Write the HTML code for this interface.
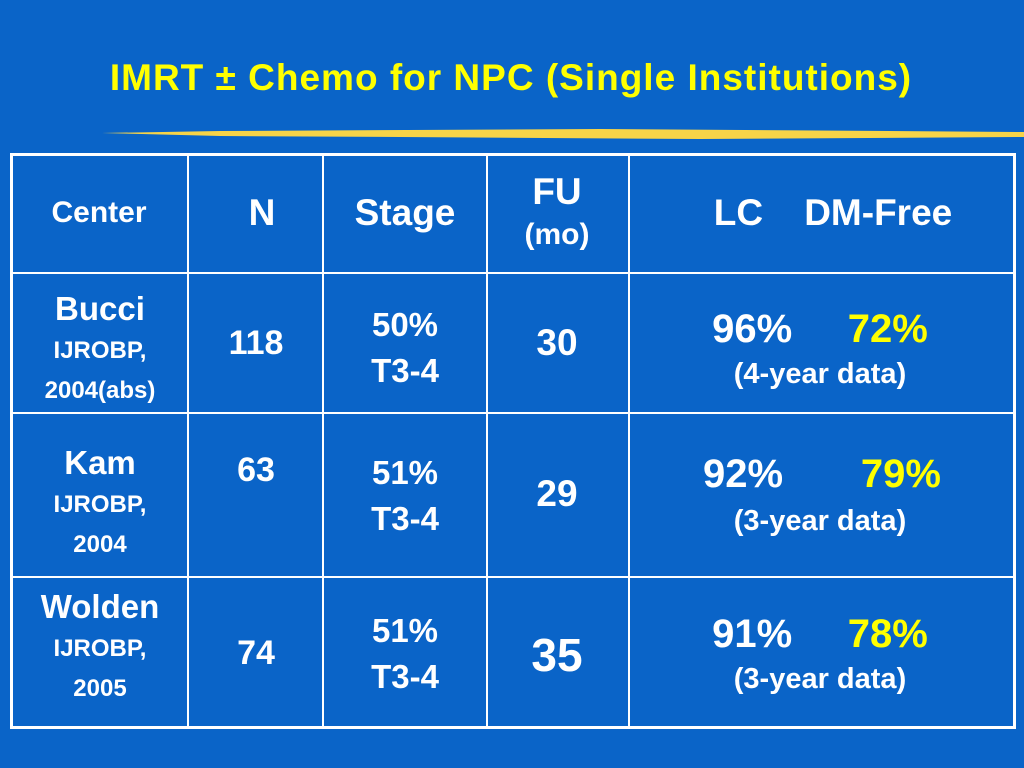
<!DOCTYPE html>
<html><head><meta charset="utf-8"><style>
body{margin:0;width:1024px;height:768px;background:#0a64c8;overflow:hidden;position:relative;font-family:"Liberation Sans",Arial,Helvetica,sans-serif;color:#fff}
.t{position:absolute;text-align:center;font-weight:bold;white-space:nowrap;transform:translateX(-50%)}
.y{color:#ffff00}
.ln{position:absolute;background:#fff}
</style></head><body>
<div class="t y" style="left:511px;top:57px;font-size:37px;letter-spacing:1px">IMRT ± Chemo for NPC (Single Institutions)</div>
<svg style="position:absolute;left:100px;top:124px" width="924" height="20"><path d="M2 9 L120 7 L500 5 L924 8 L924 13 L600 15 L300 13 L120 12 Z" fill="#f7d448"/></svg>
<div style="position:absolute;left:10px;top:153px;width:1000px;height:570px;border:3px solid #fff"></div>
<div class="ln" style="left:187px;top:153px;width:2px;height:573px"></div>
<div class="ln" style="left:322px;top:153px;width:2px;height:573px"></div>
<div class="ln" style="left:486px;top:153px;width:2px;height:573px"></div>
<div class="ln" style="left:628px;top:153px;width:2px;height:573px"></div>
<div class="ln" style="left:10px;top:272px;width:1004px;height:2px"></div>
<div class="ln" style="left:10px;top:412px;width:1004px;height:2px"></div>
<div class="ln" style="left:10px;top:576px;width:1004px;height:2px"></div>

<div class="t" style="left:99px;top:196px;font-size:30px">Center</div>
<div class="t" style="left:262px;top:192px;font-size:37px">N</div>
<div class="t" style="left:405px;top:192px;font-size:37px">Stage</div>
<div class="t" style="left:557px;top:172px;font-size:37px;line-height:40px">FU<br><span style="font-size:30px">(mo)</span></div>
<div class="t" style="left:833px;top:192px;font-size:37px">LC&nbsp;&nbsp;&nbsp;&nbsp;DM-Free</div>

<div class="t" style="left:100px;top:290px;font-size:33px;line-height:38px">Bucci<br><span style="font-size:24px;line-height:34px">IJROBP,<br>2004(abs)</span></div>
<div class="t" style="left:256px;top:324px;font-size:34px">118</div>
<div class="t" style="left:405px;top:302px;font-size:33px;line-height:46px">50%<br>T3-4</div>
<div class="t" style="left:557px;top:322px;font-size:37px">30</div>
<div class="t" style="left:820px;top:307px;font-size:40px">96%&nbsp;&nbsp;&nbsp;&nbsp;&nbsp;<span class="y">72%</span></div>
<div class="t" style="left:820px;top:358px;font-size:29px">(4-year data)</div>

<div class="t" style="left:100px;top:444px;font-size:33px;line-height:38px">Kam<br><span style="font-size:24px;line-height:34px">IJROBP,<br>2004</span></div>
<div class="t" style="left:256px;top:451px;font-size:34px">63</div>
<div class="t" style="left:405px;top:450px;font-size:33px;line-height:46px">51%<br>T3-4</div>
<div class="t" style="left:557px;top:473px;font-size:37px">29</div>
<div class="t" style="left:822px;top:452px;font-size:40px">92%&nbsp;&nbsp;&nbsp;&nbsp;&nbsp;&nbsp;&nbsp;<span class="y">79%</span></div>
<div class="t" style="left:820px;top:505px;font-size:29px">(3-year data)</div>

<div class="t" style="left:100px;top:588px;font-size:33px;line-height:38px">Wolden<br><span style="font-size:24px;line-height:34px">IJROBP,<br>2005</span></div>
<div class="t" style="left:256px;top:634px;font-size:34px">74</div>
<div class="t" style="left:405px;top:608px;font-size:33px;line-height:46px">51%<br>T3-4</div>
<div class="t" style="left:557px;top:628px;font-size:46px">35</div>
<div class="t" style="left:820px;top:612px;font-size:40px">91%&nbsp;&nbsp;&nbsp;&nbsp;&nbsp;<span class="y">78%</span></div>
<div class="t" style="left:820px;top:663px;font-size:29px">(3-year data)</div>
</body></html>
